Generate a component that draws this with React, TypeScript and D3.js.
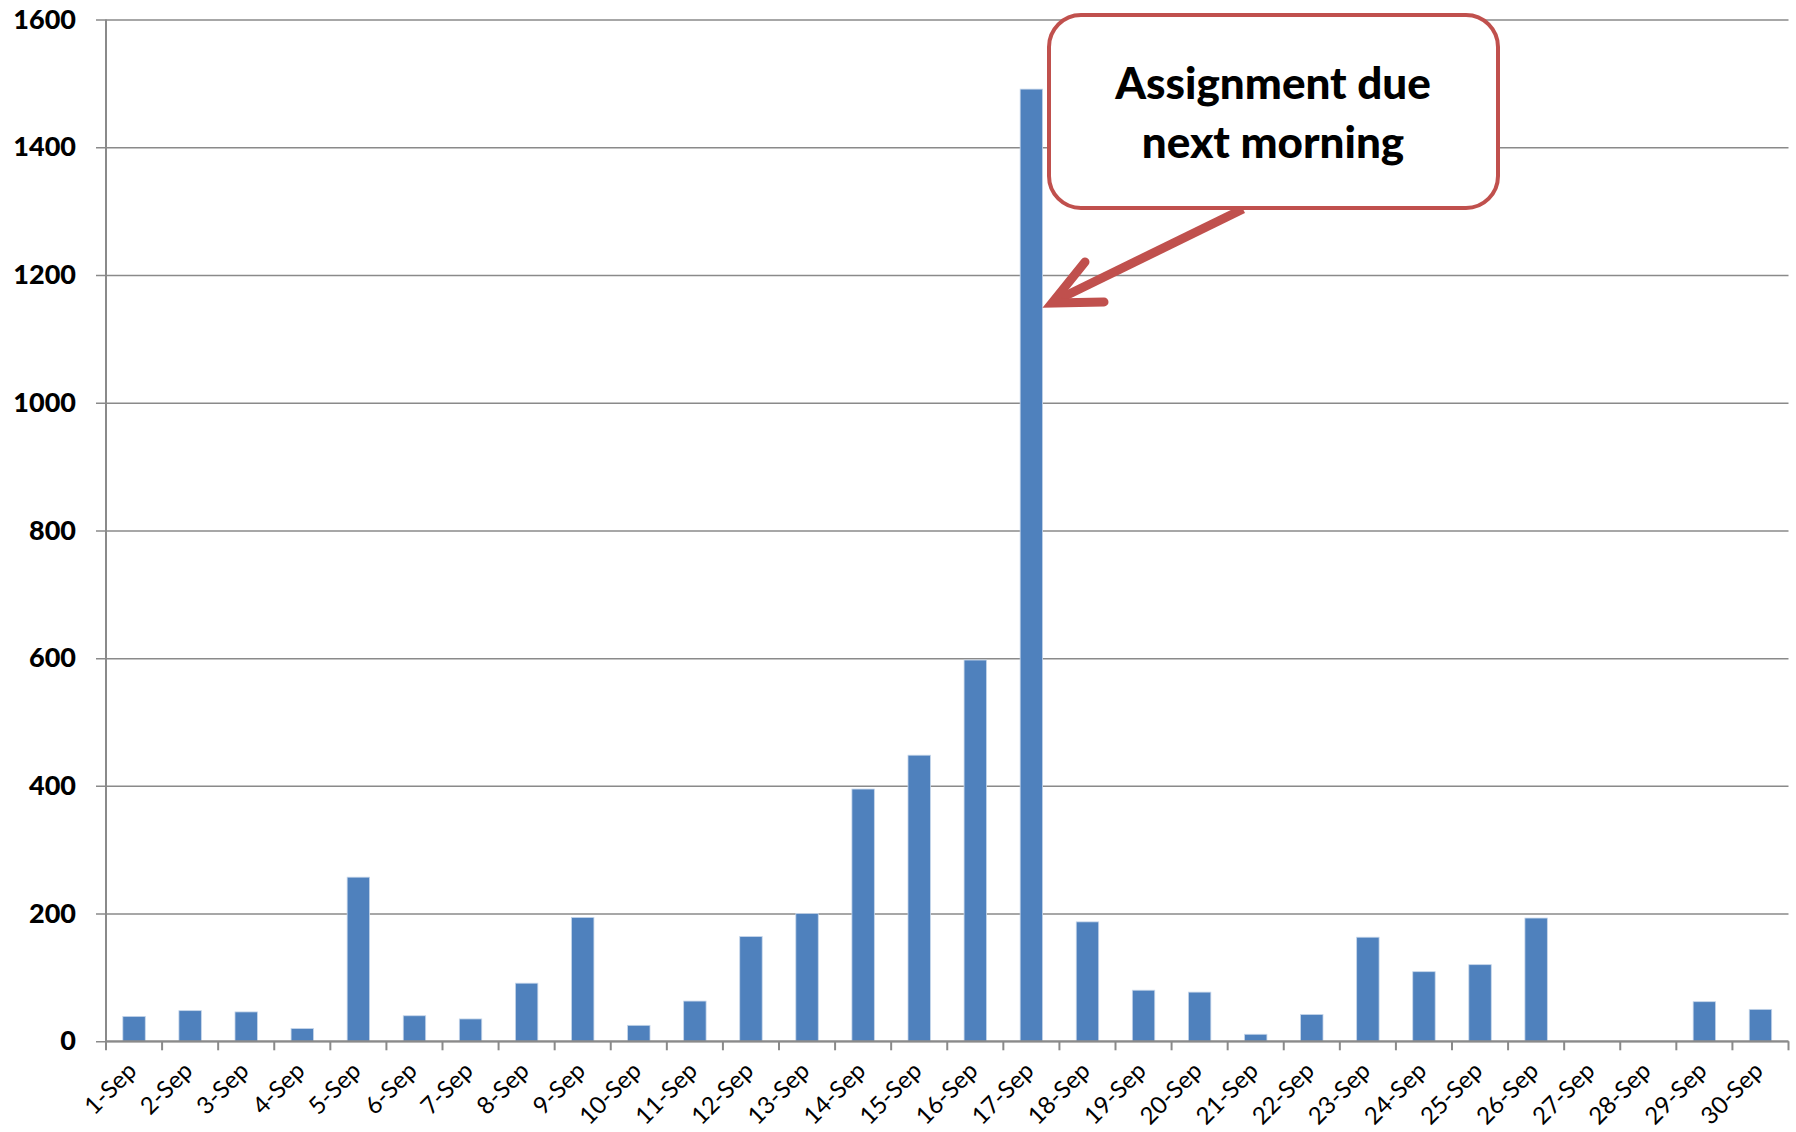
import React, { useLayoutEffect, useRef } from 'react';
import * as d3 from 'd3';

const days = [
  '1-Sep', '2-Sep', '3-Sep', '4-Sep', '5-Sep', '6-Sep', '7-Sep', '8-Sep', '9-Sep', '10-Sep',
  '11-Sep', '12-Sep', '13-Sep', '14-Sep', '15-Sep', '16-Sep', '17-Sep', '18-Sep', '19-Sep', '20-Sep',
  '21-Sep', '22-Sep', '23-Sep', '24-Sep', '25-Sep', '26-Sep', '27-Sep', '28-Sep', '29-Sep', '30-Sep',
];
const counts = [
  39, 48, 46, 20, 257, 40, 35, 91, 194, 25,
  63, 164, 200, 395, 448, 597, 1491, 187, 80, 77,
  11, 42, 163, 109, 120, 193, 0, 0, 62, 50,
];
const yTicks = [0, 200, 400, 600, 800, 1000, 1200, 1400, 1600];
const calloutLines = ['Assignment due', 'next morning'];

const width = 1796;
const height = 1132;
const margin = { top: 19.5, left: 106, right: 7.5, bottom: 90.7 };

const drawChart = (container: HTMLDivElement) => {
  d3.select(container).selectAll('*').remove();
  const svg = d3
    .select(container)
    .append('svg')
    .attr('width', width)
    .attr('height', height)
    .style('position', 'absolute')
    .style('left', 0)
    .style('top', 0)
    .style('background', '#fff');

  const chartWidth = width - margin.left - margin.right;
  const chartHeight = height - margin.top - margin.bottom;

  const x = d3.scaleBand<string>().domain(days).range([0, chartWidth]).paddingInner(0.6).paddingOuter(0.3);
  const y = d3.scaleLinear().domain([0, 1600]).range([chartHeight, 0]);

  const g = svg.append('g').attr('transform', `translate(${margin.left},${margin.top})`);

  // gridlines + y labels
  const yAxis = d3
    .axisLeft(y)
    .tickValues(yTicks)
    .tickFormat(d3.format('d'))
    .tickSize(-chartWidth)
    .tickPadding(30)
    .tickSizeOuter(0);
  const yg = g.append('g').call(yAxis);
  yg.select('.domain').remove();
  yg.selectAll('.tick line').attr('stroke', '#8a8a8a').attr('stroke-width', 1.5).attr('x1', -10);
  yg.selectAll('.tick text')
    .attr('font-family', 'Lato, sans-serif')
    .attr('font-weight', 900)
    .attr('font-size', 27)
    .attr('fill', '#000');

  // bars
  g.append('g')
    .selectAll('rect')
    .data(counts)
    .join('rect')
    .attr('x', (_d, i) => x(days[i]) as number)
    .attr('width', x.bandwidth())
    .attr('y', (d) => y(d))
    .attr('height', (d) => chartHeight - y(d))
    .attr('fill', '#4F81BD')
    .attr('stroke', '#C6D6EA')
    .attr('stroke-width', (d) => (d > 0 ? 0.8 : 0));

  // y axis line
  g.append('line')
    .attr('x1', 0)
    .attr('x2', 0)
    .attr('y1', 0)
    .attr('y2', chartHeight)
    .attr('stroke', '#8a8a8a')
    .attr('stroke-width', 2);

  // x axis
  const step = x.step();
  const xg = g.append('g').attr('transform', `translate(0,${chartHeight})`);
  xg.append('line')
    .attr('x1', 0)
    .attr('x2', chartWidth)
    .attr('stroke', '#8a8a8a')
    .attr('stroke-width', 2);
  xg.selectAll('line.tick')
    .data(d3.range(days.length + 1))
    .join('line')
    .classed('tick', true)
    .attr('x1', (i) => i * step)
    .attr('x2', (i) => i * step)
    .attr('y1', 0)
    .attr('y2', 9)
    .attr('stroke', '#8a8a8a')
    .attr('stroke-width', 2);
  xg.selectAll('text')
    .data(days)
    .join('text')
    .attr('text-anchor', 'end')
    .attr('transform', (d) => {
      const cx = (x(d) as number) + x.bandwidth() / 2 + 4;
      return `translate(${cx},${31}) rotate(-45)`;
    })
    .attr('font-family', 'Lato, sans-serif')
    .attr('font-size', 24)
    .attr('fill', '#000')
    .text((d) => d);

  // callout
  const box = { x: 1049, y: 15, w: 449, h: 193, r: 32 };
  const c = svg.append('g');
  const tip: [number, number] = [1052, 303];
  c.append('line')
    .attr('x1', 1243)
    .attr('y1', 209)
    .attr('x2', tip[0] + 5)
    .attr('y2', tip[1] - 3)
    .attr('stroke', '#C0504D')
    .attr('stroke-width', 9);
  c.append('path')
    .attr('d', `M1085,262 L${tip[0]},${tip[1]} L1104,302`)
    .attr('fill', 'none')
    .attr('stroke', '#C0504D')
    .attr('stroke-width', 9)
    .attr('stroke-linecap', 'round')
    .attr('stroke-linejoin', 'miter');
  c.append('rect')
    .attr('x', box.x)
    .attr('y', box.y)
    .attr('width', box.w)
    .attr('height', box.h)
    .attr('rx', box.r)
    .attr('fill', '#fff')
    .attr('stroke', '#C0504D')
    .attr('stroke-width', 4);
  c.selectAll('text')
    .data(calloutLines)
    .join('text')
    .attr('x', 1273)
    .attr('y', (_d, i) => 99 + i * 59)
    .attr('text-anchor', 'middle')
    .attr('font-family', 'Lato, sans-serif')
    .attr('font-weight', 900)
    .attr('font-size', 44)
    .attr('fill', '#000')
    .text((d) => d);
};

export default function App() {
  const rootEl = useRef<HTMLDivElement>(null);

  useLayoutEffect(() => {
    if (rootEl.current) drawChart(rootEl.current);
  }, []);

  return <div ref={rootEl} />;
}
